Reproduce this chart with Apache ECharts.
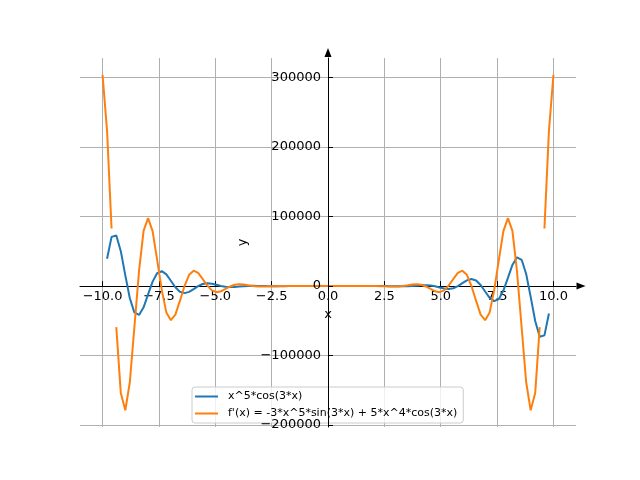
<!DOCTYPE html>
<html style="height: 100%">
<head>
    <meta charset="utf-8"/>
</head>
<body style="height: 100%; margin: 0; overflow: hidden; background: #fff">
<div id="container" style="width: 640px; height: 480px"></div>

<script type="text/javascript" src="https://cdn.jsdelivr.net/npm/echarts@6/dist/echarts.min.js"></script>

<script type="text/javascript">
    // sample points along x (~0.2 apart)
    var xs = [
        -10.00, -9.80, -9.60, -9.39, -9.19, -8.99, -8.79, -8.59, -8.38, -8.18,
        -7.98, -7.78, -7.58, -7.37, -7.17, -6.97, -6.77, -6.57, -6.36, -6.16,
        -5.96, -5.76, -5.56, -5.35, -5.15, -4.95, -4.75, -4.55, -4.34, -4.14,
        -3.94, -3.74, -3.54, -3.33, -3.13, -2.93, -2.73, -2.53, -2.32, -2.12,
        -1.92, -1.72, -1.52, -1.31, -1.11, -0.91, -0.71, -0.51, -0.30, -0.10,
        0.10, 0.30, 0.51, 0.71, 0.91, 1.11, 1.31, 1.52, 1.72, 1.92,
        2.12, 2.32, 2.53, 2.73, 2.93, 3.13, 3.33, 3.54, 3.74, 3.94,
        4.14, 4.34, 4.55, 4.75, 4.95, 5.15, 5.35, 5.56, 5.76, 5.96,
        6.16, 6.36, 6.57, 6.77, 6.97, 7.17, 7.37, 7.58, 7.78, 7.98,
        8.18, 8.38, 8.59, 8.79, 8.99, 9.19, 9.39, 9.60, 9.80, 10.00
    ];

    // x^5*cos(3*x)  (null = not drawn)
    var fValues = [
        null, 39340, 70860, 72840, 50260, 15490, -17480, -37830, -41420, -30540,
        -11940, 6430, 18500, 21620, 16870, 7740, -1650, -8070, -10130, -8300,
        -4250, 30, 3040, 4130, 3520, 1930, 250, -930, -1380, -1210,
        -690, -160, 210, 350, 300, 170, 50, -30, -50, -40,
        -20, 0, 0, 0, 0, 0, 0, 0, 0, 0,
        0, 0, 0, 0, 0, 0, 0, 0, 0, 20,
        40, 50, 30, -50, -170, -300, -350, -210, 160, 690,
        1210, 1380, 930, -250, -1930, -3520, -4130, -3040, -30, 4250,
        8300, 10130, 8070, 1650, -7740, -16870, -21620, -18500, -6430, 11940,
        30540, 41420, 37830, 17480, -15490, -50260, -72840, -70860, -39340, null
    ];

    // f'(x)
    var dValues = [
        304100, 223700, 83000, -59070, -153900, -178560, -138300, -59900, 22300, 79560,
        97710, 79040, 38050, -6120, -37810, -49100, -41090, -21320, 450, 16220,
        22170, 18960, 10280, 720, -6130, -8710, -7450, -4070, -480, 1980,
        2820, 2340, 1240, 150, -510, -680, -520, -240, -20, 90,
        100, 60, 20, 0, 0, 0, 0, 0, 0, 0,
        0, 0, 0, 0, 0, 0, 0, 20, 60, 100,
        90, -20, -240, -520, -680, -510, 150, 1240, 2340, 2820,
        1980, -480, -4070, -7450, -8710, -6130, 720, 10280, 18960, 22170,
        16220, 450, -21320, -41090, -49100, -37810, -6120, 38050, 79040, 97710,
        79560, 22300, -59900, -138300, -178560, -153900, -59070, 83000, 223700, 304100
    ];
    // the f'(x) line is broken after these sample indices
    var dBreaksAfter = [2, 96];

    var xTicks = [-10, -7.5, -5, -2.5, 0, 2.5, 5, 7.5, 10];
    var yTicks = [-200000, -100000, 0, 100000, 200000, 300000];

    var seriesNames = ["x^5*cos(3*x)", "f'(x) = -3*x^5*sin(3*x) + 5*x^4*cos(3*x)"];

    function pairs(values, breaks) {
        var out = [];
        for (var i = 0; i < xs.length; i++) {
            out.push([xs[i], values[i] == null ? "-" : values[i]]);
            if (breaks && breaks.indexOf(i) >= 0) {
                out.push([xs[i], "-"]);
            }
        }
        return out;
    }

    function minus(s) {
        return String(s).replace("-", "\u2212");
    }

    var font = "DejaVu Sans";

    // grid box in px; the spines cross at data (0, 0)
    var gridLeft = 80, gridRight = 576, gridTop = 58, gridBottom = 427;
    var xMin = -11, xMax = 11, yMin = -202700, yMax = 328200;
    var zeroX = gridLeft + (0 - xMin) / (xMax - xMin) * (gridRight - gridLeft);
    var zeroY = gridBottom - (0 - yMin) / (yMax - yMin) * (gridBottom - gridTop);

    var dom = document.getElementById("container");
    var myChart = echarts.init(dom, null, {renderer: "canvas"});

    var option = {
        animation: false,
        backgroundColor: "#fff",
        textStyle: {fontFamily: font},
        grid: {
            left: gridLeft, right: 640 - gridRight, top: gridTop, bottom: 480 - gridBottom,
            containLabel: false,
            outerBoundsMode: "none"
        },
        legend: {
            orient: "vertical",
            left: 192,
            top: 387,
            z: 4,
            padding: [3, 6, 3, 3],
            itemGap: 4,
            itemWidth: 23,
            itemHeight: 2,
            icon: "rect",
            backgroundColor: "rgba(255,255,255,0.8)",
            borderColor: "#cccccc",
            borderWidth: 1,
            borderRadius: 3,
            textStyle: {
                fontFamily: font,
                fontSize: 11,
                lineHeight: 13,
                color: "#000",
                padding: [0, 0, 0, 5]
            },
            data: seriesNames
        },
        xAxis: {
            type: "value",
            min: xMin,
            max: xMax,
            position: "bottom",
            offset: -(gridBottom - zeroY),
            name: "x",
            nameLocation: "middle",
            nameGap: 22,
            nameTextStyle: {fontFamily: font, fontSize: 13, color: "#000"},
            axisLine: {
                onZero: false,
                symbol: ["none", "triangle"],
                symbolSize: [7, 9],
                symbolOffset: [0, 5],
                lineStyle: {color: "#000", width: 1}
            },
            axisTick: {
                show: true,
                inside: true,
                length: 5,
                customValues: xTicks,
                lineStyle: {color: "#000", width: 1}
            },
            axisLabel: {
                customValues: xTicks,
                margin: 4,
                fontFamily: font,
                fontSize: 13,
                color: "#000",
                formatter: function (v) { return minus(v.toFixed(1)); }
            },
            splitLine: {
                show: true,
                lineStyle: {color: "#b0b0b0", width: 1}
            }
        },
        yAxis: [
            {
                // the y spine, its ticks and labels: drawn above the legend
                type: "value",
                min: yMin,
                max: yMax,
                position: "left",
                offset: -(zeroX - gridLeft),
                z: 5,
                name: "y",
                nameLocation: "middle",
                nameRotate: 90,
                nameGap: 78,
                nameTextStyle: {fontFamily: font, fontSize: 13, color: "#000"},
                axisLine: {
                    onZero: false,
                    symbol: ["none", "triangle"],
                    symbolSize: [7, 9],
                    symbolOffset: [0, 5.5],
                    lineStyle: {color: "#000", width: 1}
                },
                axisTick: {
                    show: true,
                    inside: true,
                    length: 5,
                    customValues: yTicks,
                    lineStyle: {color: "#000", width: 1}
                },
                axisLabel: {
                    customValues: yTicks,
                    margin: 7,
                    fontFamily: font,
                    fontSize: 13,
                    color: "#000",
                    formatter: function (v) { return minus(v); }
                },
                splitLine: {show: false}
            },
            {
                // horizontal grid lines only, kept below the curves
                type: "value",
                min: yMin,
                max: yMax,
                position: "right",
                z: 0,
                axisLine: {show: false},
                axisTick: {show: false, customValues: yTicks},
                axisLabel: {show: false, customValues: yTicks},
                splitLine: {
                    show: true,
                    lineStyle: {color: "#b0b0b0", width: 1}
                }
            }
        ],
        series: [
            {
                name: seriesNames[0],
                type: "line",
                yAxisIndex: 0,
                showSymbol: false,
                color: "#1f77b4",
                lineStyle: {width: 2},
                data: pairs(fValues, null)
            },
            {
                name: seriesNames[1],
                type: "line",
                yAxisIndex: 0,
                showSymbol: false,
                color: "#ff7f0e",
                lineStyle: {width: 2},
                data: pairs(dValues, dBreaksAfter)
            }
        ]
    };

    myChart.setOption(option);
    window.addEventListener("resize", myChart.resize);
</script>
</body>
</html>
